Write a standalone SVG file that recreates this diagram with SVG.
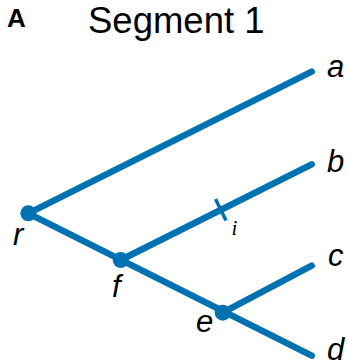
<svg xmlns="http://www.w3.org/2000/svg" width="348" height="364" viewBox="0 0 348 364">
<style>
.e{stroke:#0072b2;stroke-width:6.5;stroke-linecap:round;fill:none}
.n{fill:#0072b2}
.lbl{font-family:"Liberation Sans",Arial,sans-serif;font-style:italic;font-size:31px;fill:#000}
.t{font-family:"Liberation Sans",Arial,sans-serif;fill:#000}
.i{font-family:"Liberation Serif","Times New Roman",serif;font-style:italic;font-size:21px;fill:#000}
</style>
<rect width="348" height="364" fill="#fff"/>
<text class="t" x="7" y="27" font-weight="bold" font-size="26">A</text>
<text class="t" x="88" y="33" font-size="36.5">Segment 1</text>
<g id="connectors">
<line class="e" x1="28.3" y1="213.3" x2="311.7" y2="71.7"/>
<line class="e" x1="28.3" y1="213.3" x2="311.7" y2="355.7"/>
<line class="e" x1="120.7" y1="260" x2="311.7" y2="164.3"/>
<line class="e" x1="222.7" y1="312.7" x2="311.7" y2="265.7"/>
<line stroke="#0072b2" stroke-width="3.5" x1="215.5" y1="199" x2="226" y2="220.5"/>
<text class="i" x="231.5" y="235">i</text>
</g>
<g id="node-r"><circle class="n" cx="28.3" cy="213.3" r="8"/><text class="lbl" x="13" y="245">r</text></g>
<g id="node-f"><circle class="n" cx="120.7" cy="260" r="8"/><text class="lbl" x="112" y="297">f</text></g>
<g id="node-e"><circle class="n" cx="222.7" cy="312.7" r="8"/><text class="lbl" x="196" y="332">e</text></g>
<g id="node-a"><text class="lbl" x="327" y="77">a</text></g>
<g id="node-b"><text class="lbl" x="327" y="172">b</text></g>
<g id="node-c"><text class="lbl" x="328" y="266">c</text></g>
<g id="node-d"><text class="lbl" x="327" y="360">d</text></g>
</svg>
